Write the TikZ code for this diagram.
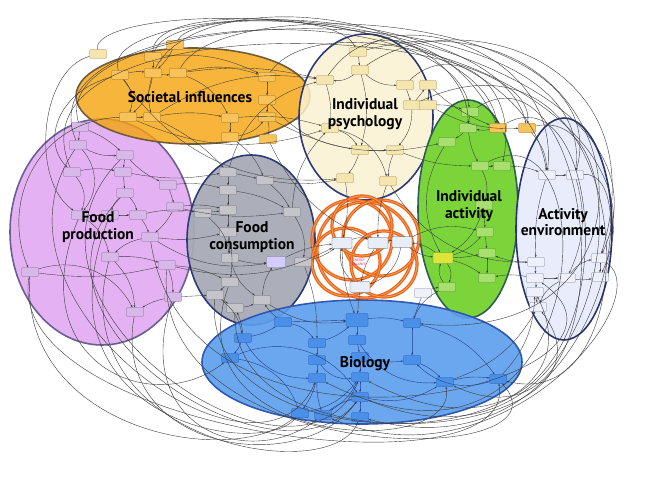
\documentclass[tikz,border=0pt]{standalone}
\usepackage{fontspec}
\setmainfont{PT Sans}
\usetikzlibrary{arrows.meta}
\definecolor{socfill}{HTML}{F5A30C}\definecolor{socdraw}{HTML}{705C3C}
\definecolor{psyfill}{HTML}{FBF2D0}\definecolor{psydraw}{HTML}{2C3A7A}
\definecolor{fpfill}{HTML}{E4B2F2}\definecolor{fpdraw}{HTML}{6A5F92}
\definecolor{fcfill}{HTML}{A8AAB6}\definecolor{fcdraw}{HTML}{2C3A7A}
\definecolor{actfill}{HTML}{7AD43A}\definecolor{actdraw}{HTML}{2D5F55}
\definecolor{aefill}{HTML}{E6EAFB}\definecolor{aedraw}{HTML}{2A3570}
\definecolor{biofill}{HTML}{5C9EEE}\definecolor{biodraw}{HTML}{3058B0}
\definecolor{socbox}{HTML}{F9C35A}\definecolor{socboxd}{HTML}{8A6A2A}
\definecolor{psybox}{HTML}{F5E6B0}\definecolor{psyboxd}{HTML}{A08A50}
\definecolor{fpbox}{HTML}{D8B8E8}\definecolor{fpboxd}{HTML}{7A6A9A}
\definecolor{fcbox}{HTML}{C4C4CA}\definecolor{fcboxd}{HTML}{6A6A78}
\definecolor{cenbox}{HTML}{E8EEF8}\definecolor{cenboxd}{HTML}{404060}
\definecolor{actbox}{HTML}{A8E070}\definecolor{actboxd}{HTML}{4A8A2A}
\definecolor{aebox}{HTML}{EEF0FA}\definecolor{aeboxd}{HTML}{7A80A0}
\definecolor{biobox}{HTML}{4A90E8}\definecolor{bioboxd}{HTML}{2050B0}
\definecolor{ringout}{HTML}{E8601C}\definecolor{ringin}{HTML}{F79A4A}
\definecolor{linec}{HTML}{3A3A3A}\definecolor{bline}{HTML}{23408E}
\definecolor{pinktxt}{HTML}{E0207A}
\begin{document}
\begin{tikzpicture}[x=1pt,y=-1pt,
  region/.style={line width=1.6pt},
  lab/.style={font=\fontsize{15.5}{16.5}\selectfont\bfseries,align=center,text=black,inner sep=0pt},
  sbox/.style={draw=#1boxd,fill=#1box,rounded corners=1pt,minimum width=17pt,minimum height=9pt,inner sep=0pt,line width=0.3pt},
  conn/.style={draw=linec,line width=0.35pt,-{Stealth[length=2.4pt,width=1.8pt]}},
  bconn/.style={draw=bline,line width=0.4pt,-{Stealth[length=2.4pt,width=1.8pt]}},
  oconn/.style={draw=linec,line width=0.4pt,-{Stealth[length=2.4pt,width=1.8pt]}},
  ring/.style={draw=ringout,line width=3.2pt},
  ringhi/.style={draw=ringin,line width=1pt}]
\useasboundingbox (0,0) rectangle (650,484);
\fill[white] (0,0) rectangle (650,484);

% ---------- regions ----------
\fill[fpfill] (102,232) ellipse [x radius=92,y radius=113];
\draw[region,fpdraw] (102,232) ellipse [x radius=92,y radius=113];
\fill[socfill,fill opacity=0.8] (193,96) ellipse [x radius=117,y radius=48];
\draw[region,socdraw] (193,96) ellipse [x radius=117,y radius=48];
\fill[psyfill,fill opacity=0.85] (366,117) ellipse [x radius=67,y radius=83];
\draw[region,psydraw] (366,117) ellipse [x radius=67,y radius=83];
\fill[fcfill,fill opacity=0.95] (251,240) ellipse [x radius=64,y radius=85];
\draw[region,fcdraw] (251,240) ellipse [x radius=64,y radius=85];
\fill[actfill] (468,209) ellipse [x radius=50,y radius=109];
\draw[region,actdraw] (468,209) ellipse [x radius=50,y radius=109];
\fill[aefill,fill opacity=0.9] (564,229) ellipse [x radius=48,y radius=111];
\draw[region,aedraw] (564,229) ellipse [x radius=48,y radius=111];
\fill[biofill,fill opacity=0.9] (362,362) ellipse [x radius=160,y radius=62];
\draw[region,biodraw] (362,362) ellipse [x radius=160,y radius=62];

% ---------- feedback rings ----------
\foreach \cx/\cy/\r in {365/250/48, 352/240/40, 381/238/38, 346/262/34, 384/264/33, 362/226/30}{
  \draw[ring] (\cx,\cy) circle (\r);
  \draw[ringhi] (\cx,\cy) circle (\r);
}

% ---------- boxes ----------
% societal influences
\node[sbox=psy] (s0) at (98,54) {};
\foreach \n/\x/\y in {s1/153/57,s2/120/75,s3/153/73,s4/178/73,s5/128/117,s6/152/117,
  s7/230/118,s8/230/137,s9/267/77,s10/267/100,s11/267/117,s12/268/139,s13/175/45}
  \node[sbox=soc] (\n) at (\x,\y) {};
% individual psychology
\foreach \n/\x/\y in {p1/358/52,p2/360/70,p3/325/80,p4/405/85,p5/412/105,p6/330/128,
  p7/360/150,p8/395/150,p9/345/178,p10/388/181,p11/428/85,p12/428/105}
  \node[sbox=psy] (\n) at (\x,\y) {};
\node[sbox=soc] (o1) at (498,128) {};
\node[sbox=soc] (o2) at (527,128) {};
% food production
\foreach \n/\x/\y in {f1/80/127,f2/78/145,f3/125/155,f4/72/172,f5/123/172,f6/125/193,
  f7/80/215,f8/110/215,f9/138/215,f10/150/237,f11/110/257,f12/30/272,f13/167/265,
  f14/173/297,f15/135/312,f16/175/207,f17/168/185}
  \node[sbox=fp] (\n) at (\x,\y) {};
% food consumption
\foreach \n/\x/\y in {c1/228/172,c2/265/180,c3/203/213,c4/228/210,c5/228/232,c6/230/258,
  c8/230/282,c9/215/295,c10/235/308,c11/262/300,c12/292/212,c13/303/262,c14/228/190}
  \node[sbox=fc] (\n) at (\x,\y) {};
\node[sbox=fp,fill=fpbox!70!blue!40,minimum width=19pt,minimum height=11pt] (c7) at (276,262) {};
% centre
\foreach \n/\x/\y in {m1/342/243,m2/378/243,m3/402/242,m4/360/287}
  \node[sbox=cen,minimum width=20pt,minimum height=11pt] (\n) at (\x,\y) {};
\node[text=pinktxt,font=\fontsize{3.5}{4}\selectfont,align=center] (eb) at (359,262) {ENERGY\\BALANCE};
% individual activity
\foreach \n/\x/\y in {a1/470/112,a2/468/128,a3/447/142,a4/480/166,a5/502/166,a6/484/205,
  a7/485/232,a8/487/253,a9/487/278,a11/447/287}
  \node[sbox=act] (\n) at (\x,\y) {};
\node[sbox=act,fill=yellow!60!actbox,minimum width=20pt,minimum height=11pt] (a10) at (443,258) {};
% activity environment
\foreach \n/\x/\y in {e1/547/175,e2/575/175,e3/536/262,e4/535/278,e5/567/278,e6/600/258,
  e7/600/277,e8/535/292,e9/538/307}
  \node[sbox=ae] (\n) at (\x,\y) {};
% biology
\foreach \n/\x/\y in {b2/283/322,b3/412/323,b4/243/338,b5/317/343,b6/357/340,b7/230/358,
  b8/317/360,b9/360/357,b10/412/360,b11/317/378,b12/360/377,b13/360/397,b14/445/382,
  b15/300/413,b16/323/415,b17/360/417,b18/498/379}
  \node[sbox=bio] (\n) at (\x,\y) {};
\node[sbox=bio,minimum width=22pt,minimum height=13pt] (b1) at (357,320) {};
\node[sbox=ae] (b19) at (423,293) {};

% ---------- outer arcs ----------
\foreach \a/\b/\p/\q/\r/\s in {
  s0/e1/90/0/520/-10, s1/o2/170/-5/500/10, s13/o1/200/0/480/20, f1/e2/40/0/600/-20,
  f2/a1/20/10/450/-10, s2/p1/100/20/330/0, s4/e2/220/-10/620/10, f4/o2/0/0/540/20,
  p1/e1/420/10/560/60, p2/e6/460/0/660/60, s9/e7/330/-15/680/100, p4/a5/450/40/520/80,
  s3/a2/200/-20/470/10, s1/e6/150/-30/700/40, p3/o1/380/0/470/60,
  p5/b18/640/0/660/420, a1/b14/600/30/640/470, o2/b13/650/100/620/500,
  e2/b17/650/170/600/480, p1/b3/640/-20/690/350, e6/b16/660/300/500/490,
  o1/b12/620/60/640/520, a4/b11/610/100/600/520,
  f12/b15/20/430/230/470, f14/b16/130/430/250/470, f15/b13/110/450/300/480,
  f11/b17/60/440/330/490, c9/e8/200/470/620/460, c10/e9/230/480/640/440,
  f13/b18/150/470/580/470, c8/b14/170/450/460/460, f7/b7/20/360/150/420,
  f10/e4/190/500/680/380, f3/b12/-20/300/300/520, f8/b15/30/420/260/460,
  f6/b13/0/320/280/500, f12/b18/0/430/520/500, f2/b11/-30/300/260/510,
  s5/f12/40/120/0/200, s0/f7/40/70/30/180, s2/f4/60/90/40/140}
  \draw[oconn] (\a) .. controls (\p,\q) and (\r,\s) .. (\b);

% ---------- internal connectors ----------
\foreach \a/\b/\c in {
  s1/s3/0, s2/s3/10, s3/s4/-10, s3/s5/20, s3/s6/-15, s4/s7/20, s9/s10/0, s10/s11/0,
  s7/s8/0, s2/s5/30, s6/s7/10, s4/s9/15, s11/s12/10, s13/s3/10, s5/s6/0, s8/s11/-20,
  s1/s9/15, s5/p6/-20, s6/p3/20, s7/p6/10, s2/p9/-30, s8/c2/15, s10/p7/-20,
  s12/m2/-20, s11/a3/-20, s4/p3/10, s6/c1/10,
  p1/p2/0, p2/p3/20, p2/p4/-20, p4/p5/0, p3/p6/10, p6/p7/20, p7/p8/0, p7/p9/10,
  p8/p10/-10, p5/p8/20, p11/p12/0, p2/p7/15, p9/m1/10, p10/m2/-10, p6/p10/30,
  p12/a1/10, p8/a4/-10, p10/e3/-30, p11/o1/-10, p12/o2/-15, p5/p11/0,
  f1/f2/0, f2/f3/-15, f3/f5/0, f4/f5/10, f5/f6/0, f6/f9/15, f7/f8/0, f8/f9/0,
  f9/f10/10, f10/f11/-15, f11/f15/20, f13/f14/10, f14/f15/-10, f12/f13/-10,
  f4/f7/30, f6/f8/-15, f16/f10/10, f17/f16/0, f3/f17/-10, f12/f15/40, f2/f7/40,
  f1/f3/10, f7/f11/20, f11/f13/10,
  c1/c14/0, c14/c4/0, c1/c2/0, c3/c4/0, c4/c5/0, c5/c6/0, c6/c7/-10, c5/c8/10,
  c8/c9/0, c9/c10/0, c10/c11/-10, c11/c7/15, c2/c12/10, c12/c13/20, c13/m1/-10,
  c7/m1/10, c6/c11/-20, c3/c6/20, c14/c12/10,
  f10/c5/-10, f9/c3/10, f16/c4/10, f13/c8/10, f14/c9/0, f10/c7/-20, f5/c1/-10,
  f13/m1/-20, c12/p6/20, c2/p9/-10, c1/p3/30, f17/c14/10, f16/c12/-10,
  m1/m2/20, m2/m3/10, m3/m4/30, m4/m1/30, m2/m4/-10, m1/b1/-10, m4/b1/0,
  m3/a10/-15, a10/m3/-15, m3/a7/20,
  a1/a2/0, a2/a3/10, a2/a4/-10, a4/a5/0, a4/a6/20, a6/a7/0, a7/a8/0, a8/a9/0,
  a10/a7/-15, a10/a8/-5, a10/a9/10, a10/a11/30, a11/a10/30, a3/a10/-30, a6/a10/20,
  e3/a8/10, e4/a9/-10, a5/e1/10, o1/a2/10, o2/e1/20,
  e1/e2/0, e2/e5/20, e1/e3/-10, e3/e4/0, e4/e5/0, e5/e6/20, e5/e7/-10, e4/e8/10,
  e8/e9/0, e6/e7/0, e5/e9/-20,
  b3/a11/20, b14/e9/-20, b19/a11/10, b18/e8/-20, c9/b4/20, b2/c11/10, b4/c10/-10,
  c13/b5/10, c11/b1/-20}
  \draw[conn] (\a) to[bend left=\c] (\b);

\foreach \a/\b/\c in {
  b1/b6/0, b6/b9/0, b9/b12/0, b12/b13/0, b13/b17/0, b5/b8/0, b8/b11/0, b11/b15/10,
  b11/b16/-10, b2/b1/0, b4/b7/10, b4/b2/-10, b3/b10/0, b10/b14/10, b12/b16/15,
  b14/b18/10, b7/b15/30, b9/b10/-10, b1/b3/10, b13/b14/-20, b5/b1/-10, b19/b3/0,
  b2/b5/20, b8/b12/-30, b18/b10/30, b4/b11/-30, b7/b13/40, b6/b14/-30, b3/b18/20,
  b16/b13/10, b15/b12/-20}
  \draw[bconn] (\a) to[bend left=\c] (\b);

% ---------- labels ----------
\node[lab] (lsoc) at (190,97) {Societal influences};
\node[lab] (lpsy) at (365,114) {Individual\\psychology};
\node[lab] (lfp) at (98,227) {Food\\production};
\node[lab] (lfc) at (252,237) {Food\\consumption};
\node[lab] (lact) at (469,206) {Individual\\activity};
\node[lab] (lae) at (563,222) {Activity\\environment};
\node[lab] (lbio) at (365,364) {Biology};
\end{tikzpicture}
\end{document}
